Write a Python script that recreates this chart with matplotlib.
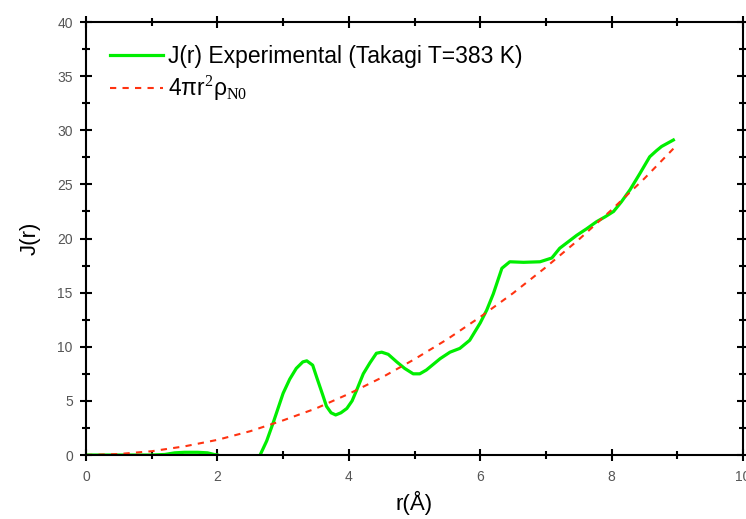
import numpy as np
import matplotlib
matplotlib.use('Agg')
import matplotlib.pyplot as plt
from matplotlib.ticker import MultipleLocator

plt.rcParams['font.family'] = ['Liberation Sans', 'DejaVu Sans']
plt.rcParams['mathtext.fontset'] = 'custom'
plt.rcParams['mathtext.rm'] = 'Liberation Serif'
plt.rcParams['mathtext.it'] = 'Liberation Sans'

# experimental J(r) (nan = gap in the trace)
r_exp = [0, 0.5, 1.0, 1.2, 1.35, 1.5, 1.7, 1.85, 1.95, 2.0, np.nan,
         2.65, 2.75, 2.85, 3.0, 3.1, 3.2, 3.3, 3.36, 3.45, 3.51, 3.6, 3.66,
         3.73, 3.8, 3.88, 3.97, 4.05, 4.12, 4.22, 4.32, 4.42, 4.5, 4.6, 4.73,
         4.85, 4.98, 5.08, 5.18, 5.29, 5.39, 5.54, 5.69, 5.84, 6.0, 6.1, 6.2,
         6.33, 6.45, 6.66, 6.91, 7.09, 7.21, 7.34, 7.47, 7.62, 7.77, 7.9,
         8.03, 8.15, 8.28, 8.43, 8.58, 8.68, 8.76, 8.85, 8.94]
j_exp = [0, 0, 0, 0.05, 0.2, 0.25, 0.25, 0.2, 0.05, 0, np.nan,
         0, 1.3, 3.0, 5.7, 7.0, 8.0, 8.6, 8.7, 8.3, 7.2, 5.6, 4.5,
         3.9, 3.7, 3.9, 4.3, 5.0, 6.0, 7.5, 8.5, 9.4, 9.5, 9.3, 8.6,
         8.0, 7.5, 7.5, 7.85, 8.4, 8.9, 9.5, 9.85, 10.6, 12.2, 13.4, 14.9,
         17.25, 17.85, 17.8, 17.85, 18.2, 19.1, 19.7, 20.3, 20.9, 21.55, 22.0,
         22.5, 23.4, 24.5, 26.0, 27.55, 28.1, 28.5, 28.8, 29.1]

# 4 pi r^2 rho_N0 reference curve
r_ref = [0, 0.5, 1.0, 1.5, 2.0, 2.5, 3.0, 3.5, 4.0, 4.5, 5.0, 5.5, 6.0,
         6.5, 7.0, 7.5, 8.0, 8.5, 8.94]
j_ref = [0, 0.09, 0.35, 0.8, 1.4, 2.2, 3.2, 4.3, 5.65, 7.15, 8.85, 10.7, 12.75,
         14.95, 17.35, 19.9, 22.65, 25.55, 28.3]

fig = plt.figure(figsize=(7.46, 5.19), dpi=100)
ax = fig.add_axes([0.1153, 0.1233, 0.8807, 0.8343])

ax.plot(r_exp, j_exp, color='#00ee00', lw=2.3, label='J(r) Experimental (Takagi T=383 K)', zorder=2)
ax.plot(r_ref, j_ref, color='#ff3311', lw=1.5, dashes=(3, 3), label=r'4$\pi$r$^2$$\rho_{\mathrm{N0}}$', zorder=3)

ax.set_xlim(0, 10)
ax.set_ylim(0, 40)
ax.xaxis.set_major_locator(MultipleLocator(2))
ax.xaxis.set_minor_locator(MultipleLocator(1))
ax.yaxis.set_major_locator(MultipleLocator(5))
ax.yaxis.set_minor_locator(MultipleLocator(2.5))

for s in ax.spines.values():
    s.set_linewidth(1.5)
    s.set_zorder(4)
ax.tick_params(which='both', direction='inout', top=True, right=True,
               width=1.5, colors='black', labelcolor='#555555', labelsize=10)
ax.tick_params(which='major', length=9)
ax.tick_params(which='minor', length=6)
ax.tick_params(axis='x', pad=6)
ax.tick_params(axis='y', pad=5)

ax.set_xlabel('r(Å)', fontsize=16, labelpad=5)
ax.set_ylabel('J(r)', fontsize=16, labelpad=12)

ax.legend(loc='upper left', bbox_to_anchor=(0.005, 0.995), frameon=False,
          fontsize=16.5, handlelength=2.3, handletextpad=0.25, labelspacing=0.25)

fig.savefig('out.png', dpi=100)
